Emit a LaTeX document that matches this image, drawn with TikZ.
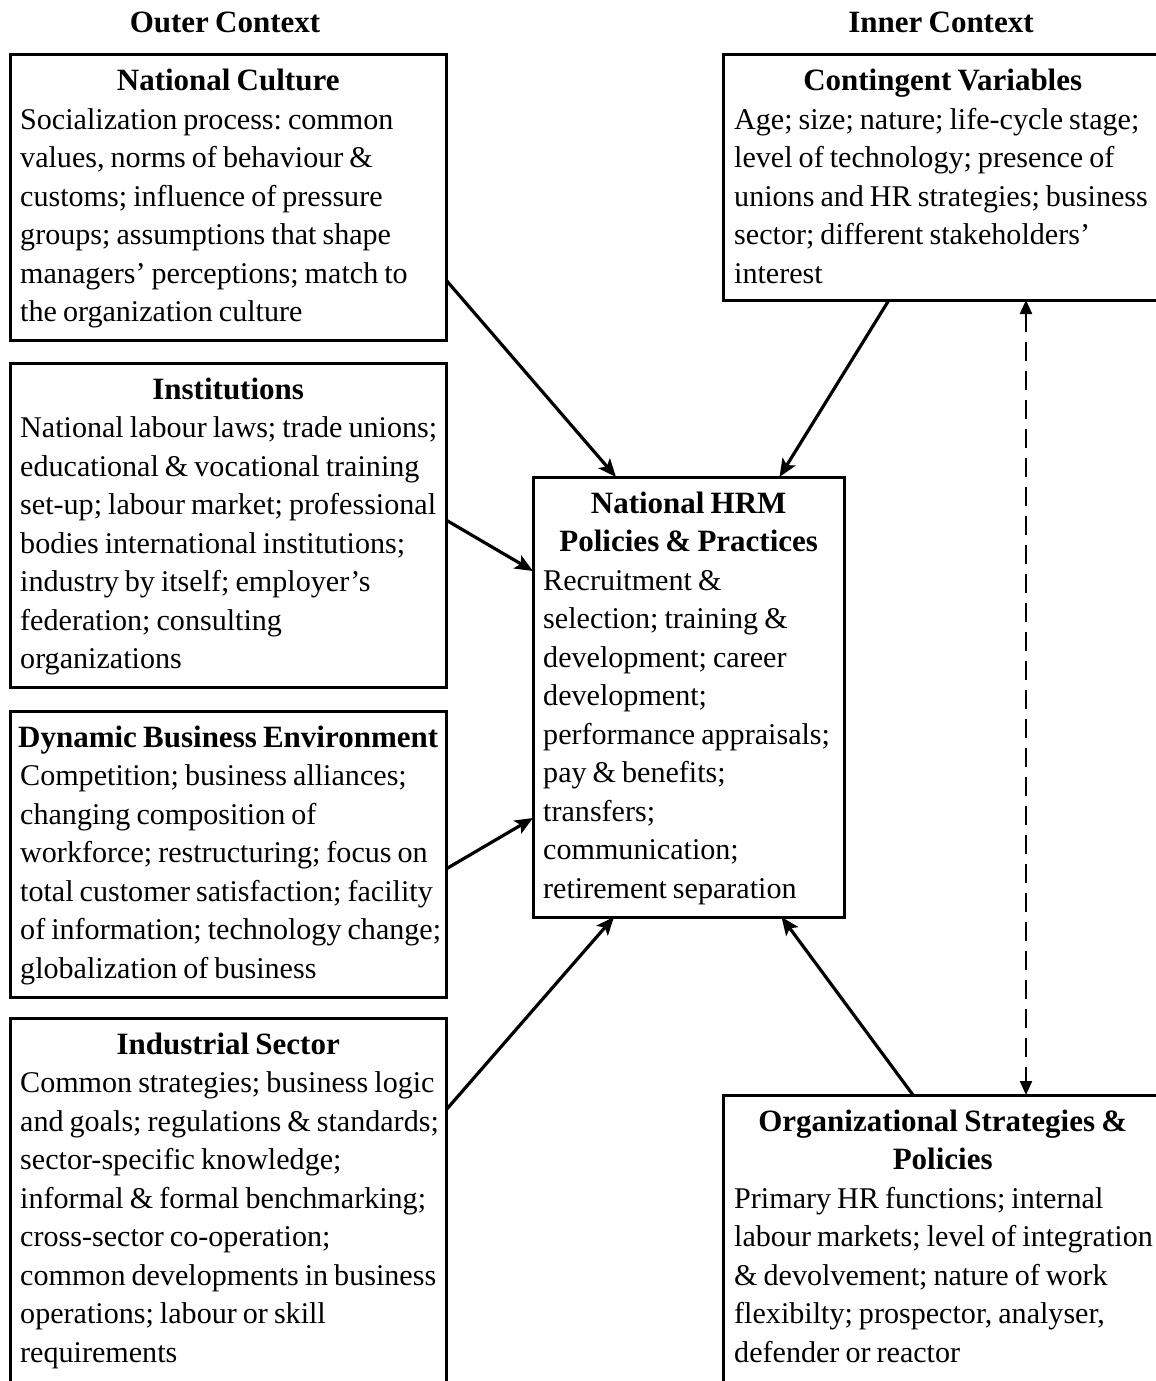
\documentclass[tikz,border=0pt]{standalone}
\usepackage{fontspec}
\setmainfont{Liberation Serif}[WordSpace=0.8]
\usetikzlibrary{arrows.meta}
\frenchspacing

\tikzset{
  panel/.style={draw=black, line width=3pt, fill=white, inner sep=0pt,
    outer sep=0pt, anchor=north west},
  panelText/.style={anchor=north west, inner sep=0pt, align=left,
    font=\fontsize{30.1}{38.5}\selectfont},
  ctxLabel/.style={anchor=base, inner sep=0pt,
    font=\fontsize{31}{38.5}\selectfont\bfseries},
  flow/.style={line width=3.2pt, -{Stealth[length=18pt,width=15pt,inset=4pt]}},
  twoway/.style={line width=2.2pt, dash pattern=on 19pt off 10pt,
    {Triangle[length=14pt,width=12pt]}-{Triangle[length=14pt,width=12pt]}},
}
% centred bold heading line of a given width
\newcommand{\panelhead}[2]{\strut\makebox[#1][c]{\fontsize{31}{38.5}\selectfont\bfseries #2}}
\newcommand{\panelheadx}[2]{\makebox[#1][c]{\fontsize{31}{38.5}\selectfont\bfseries #2}}

\begin{document}
\begin{tikzpicture}[x=1pt, y=-1pt]
  \useasboundingbox (0,0) rectangle (1156,1381);
  \fill[white] (0,0) rectangle (1156,1381);
  \clip (0,0) rectangle (1156,1381);

  % outer context panels
  \node[panel, minimum width=436pt, minimum height=285pt] (nc) at (10,55) {};
  \node[panel, minimum width=436pt, minimum height=324pt] (inst) at (10,363) {};
  \node[panel, minimum width=436pt, minimum height=286pt] (dyn) at (10,711) {};
  \node[panel, minimum width=436pt, minimum height=400pt] (ind) at (10,1018) {};

  % inner context panels
  \node[panel, minimum width=439pt, minimum height=245pt] (cv) at (723,55) {};
  \node[panel, minimum width=439pt, minimum height=320pt] (org) at (723,1095) {};

  % central panel
  \node[panel, minimum width=311pt, minimum height=440pt] (hrm) at (533,477) {};

  % column titles
  \node[ctxLabel] (outerlbl) at ([xshift=-3pt,yshift=22pt]nc.north) {Outer Context};
  \node[ctxLabel] (innerlbl) at ([xshift=-1.5pt,yshift=22pt]cv.north) {Inner Context};

  % panel texts
  \node[panelText] (nctext) at ([xshift=10pt,yshift=-8.5pt]nc.north west) {%
    \panelhead{416pt}{National Culture}\\
    Socialization process: common\\
    values, norms of behaviour \&\\
    customs; influence of pressure\\
    groups; assumptions that shape\\
    managers’ perceptions; match to\\
    the organization culture};

  \node[panelText] (insttext) at ([xshift=10pt,yshift=-9pt]inst.north west) {%
    \panelhead{416pt}{Institutions}\\
    National labour laws; trade unions;\\
    educational \& vocational training\\
    set-up; labour market; professional\\
    bodies international institutions;\\
    industry by itself; employer’s\\
    federation; consulting\\
    organizations};

  \node[panelText] (dyntext) at ([xshift=10pt,yshift=-9pt]dyn.north west) {%
    \panelhead{416pt}{Dynamic Business Environment}\\
    Competition; business alliances;\\
    changing composition of\\
    workforce; restructuring; focus on\\
    total customer satisfaction; facility\\
    of information; technology change;\\
    globalization of business};

  \node[panelText] (indtext) at ([xshift=10pt,yshift=-9pt]ind.north west) {%
    \panelhead{416pt}{Industrial Sector}\\
    Common strategies; business logic\\
    and goals; regulations \& standards;\\
    sector-specific knowledge;\\
    informal \& formal benchmarking;\\
    cross-sector co-operation;\\
    common developments in business\\
    operations; labour or skill\\
    requirements};

  \node[panelText] (cvtext) at ([xshift=11pt,yshift=-8.5pt]cv.north west) {%
    \panelhead{417pt}{Contingent Variables}\\
    Age; size; nature; life-cycle stage;\\
    level of technology; presence of\\
    unions and HR strategies; business\\
    sector; different stakeholders’\\
    interest};

  \node[panelText] (orgtext) at ([xshift=11pt,yshift=-9pt]org.north west) {%
    \panelhead{417pt}{Organizational Strategies \&}\\
    \panelheadx{417pt}{Policies}\\
    Primary HR functions; internal\\
    labour markets; level of integration\\
    \& devolvement; nature of work\\
    flexibilty; prospector, analyser,\\
    defender or reactor};

  \node[panelText] (hrmtext) at ([xshift=10pt,yshift=-9pt]hrm.north west) {%
    \panelhead{291pt}{National HRM}\\
    \panelheadx{291pt}{Policies \& Practices}\\
    Recruitment \&\\
    selection; training \&\\
    development; career\\
    development;\\
    performance appraisals;\\
    pay \& benefits;\\
    transfers;\\
    communication;\\
    retirement separation};

  % influences on national HRM
  \draw[flow] ([yshift=-82.5pt]nc.east) -- ([xshift=-72.5pt]hrm.north);
  \draw[flow] ([xshift=-53.5pt]cv.south) -- ([xshift=91pt]hrm.north);
  \draw[flow] ([yshift=5pt]inst.east) -- ([yshift=126pt]hrm.west);
  \draw[flow] ([yshift=-15pt]dyn.east) -- ([yshift=-121pt]hrm.west);
  \draw[flow] ([yshift=-92pt]ind.north east) -- ([xshift=-74.5pt]hrm.south);
  \draw[flow] ([xshift=-29.5pt]org.north) -- ([xshift=93pt]hrm.south);

  % mutual link between inner context panels
  \draw[twoway] ([xshift=83.5pt]cv.south) -- ([xshift=83.5pt]org.north);
\end{tikzpicture}
\end{document}
